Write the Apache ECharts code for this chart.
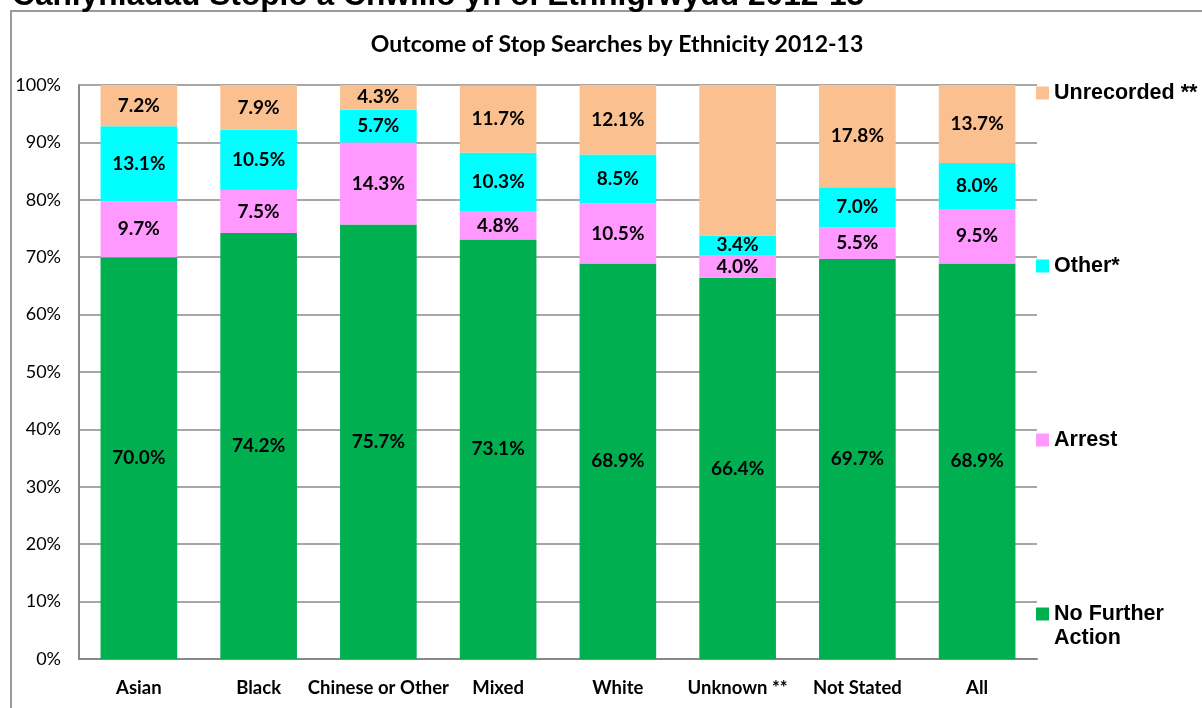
<!DOCTYPE html>
<html>
<head>
<meta charset="utf-8">
<script src="https://cdn.jsdelivr.net/npm/echarts@6/dist/echarts.min.js"></script>
<style>
  html, body { margin: 0; padding: 0; background: #fff; }
  #main { width: 1202px; height: 708px; }
</style>
</head>
<body>
<div id="main"></div>
<script>
var categories = ['Asian', 'Black', 'Chinese or Other', 'Mixed', 'White', 'Unknown **', 'Not Stated', 'All'];
var noFurtherAction = [70.0, 74.2, 75.7, 73.1, 68.9, 66.4, 69.7, 68.9];
var arrest = [9.7, 7.5, 14.3, 4.8, 10.5, 4.0, 5.5, 9.5];
var other = [13.1, 10.5, 5.7, 10.3, 8.5, 3.4, 7.0, 8.0];
var unrecorded = [7.2, 7.9, 4.3, 11.7, 12.1, 26.2, 17.8, 13.7];
var unlabelled = ['Unknown **'];   // Unrecorded value not printed for this bar
var yTicks = [0, 10, 20, 30, 40, 50, 60, 70, 80, 90, 100];

var labelFont = 'Lato, "Noto Sans", sans-serif';
var legendFont = '"Liberation Sans", Arial, sans-serif';

function makeSeries(name, values, color) {
    return {
        name: name,
        type: 'bar',
        stack: 'total',
        barCategoryGap: '36%',
        itemStyle: { color: color },
        label: {
            show: true,
            position: 'inside',
            color: '#000',
            fontFamily: labelFont,
            fontWeight: 'bold',
            fontSize: 19,
            formatter: function (p) { return p.value.toFixed(1) + '%'; }
        },
        data: values.map(function (v, i) {
            if (name === 'Unrecorded **' && unlabelled.indexOf(categories[i]) >= 0) {
                return { value: v, label: { show: false } };
            }
            return v;
        })
    };
}

function oneLegend(name, top, fmt) {
    var lg = {
        data: [name],
        orient: 'vertical',
        left: 1036,
        top: top,
        padding: 0,
        itemWidth: 13,
        itemHeight: 13,
        icon: 'rect',
        selectedMode: false,
        textStyle: {
            fontFamily: legendFont,
            fontWeight: 'bold',
            fontSize: 21.5,
            lineHeight: 24,
            color: '#000'
        }
    };
    if (fmt) lg.formatter = fmt;
    return lg;
}

var chart = echarts.init(document.getElementById('main'));
var option = {
    animation: false,
    backgroundColor: '#fff',
    title: {
        text: 'Outcome of Stop Searches by Ethnicity 2012-13',
        left: 612,
        textAlign: 'center',
        top: 28,
        textStyle: {
            fontFamily: labelFont,
            fontWeight: 'bold',
            fontSize: 23,
            color: '#000'
        }
    },
    graphic: [
        {
            type: 'rect',
            shape: { x: 11, y: 11, width: 1220, height: 720 },
            style: { fill: 'none', stroke: '#9a9a9a', lineWidth: 2 },
            silent: true
        },
        {
            type: 'text',
            left: 12,
            top: -20,
            style: {
                text: 'Canlyniadau Stopio a Chwilio yn ôl Ethnigrwydd 2012-13',
                fontFamily: legendFont,
                fontWeight: 'bold',
                fontSize: 31.7,
                fill: '#000'
            },
            silent: true
        }
    ],
    legend: [
        oneLegend('Unrecorded **', 81),
        oneLegend('Other*', 254),
        oneLegend('Arrest', 428),
        // empty first line keeps the icon level with "No Further"
        oneLegend('No Further Action', 578, function () { return '\nNo Further\nAction'; })
    ],
    grid: { left: 79, right: 165, top: 85, bottom: 49 },
    xAxis: {
        type: 'category',
        data: categories,
        axisLine: { lineStyle: { color: '#888', width: 2 } },
        axisTick: { show: false },
        axisLabel: {
            color: '#000',
            fontFamily: labelFont,
            fontWeight: 'bold',
            fontSize: 18.5,
            margin: 20,
            interval: 0
        }
    },
    yAxis: {
        type: 'value',
        min: yTicks[0],
        max: yTicks[yTicks.length - 1],
        interval: 10,
        axisLine: { show: true, lineStyle: { color: '#888', width: 2 } },
        axisTick: { show: false },
        splitLine: { lineStyle: { color: '#8a8a8a', width: 1.5 } },
        axisLabel: {
            color: '#000',
            fontFamily: labelFont,
            fontSize: 18,
            margin: 18,
            formatter: '{value}%'
        }
    },
    series: [
        makeSeries('No Further Action', noFurtherAction, '#00B050'),
        makeSeries('Arrest', arrest, '#FF99FF'),
        makeSeries('Other*', other, '#00FFFF'),
        makeSeries('Unrecorded **', unrecorded, '#FAC090')
    ]
};
chart.setOption(option);
</script>
</body>
</html>
